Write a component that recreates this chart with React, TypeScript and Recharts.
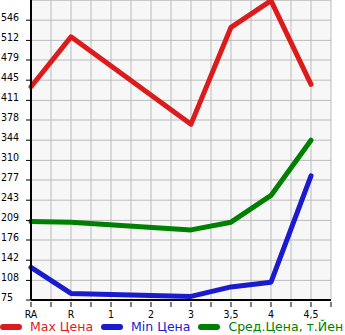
import { CartesianGrid, Line, LineChart, ReferenceLine, XAxis, YAxis } from "recharts";

const CATEGORIES = ["RA", "R", "1", "2", "3", "3,5", "4", "4,5"];
const MAX_PRICE = [434, 518, null, null, 371, 534, 579, 438];
const MIN_PRICE = [130, 86, null, null, 81, 97, 105, 284];
const AVG_PRICE = [207, 206, null, null, 193, 206, 251, 344];
const Y_TICKS = [75, 108, 142, 176, 209, 243, 277, 310, 344, 378, 411, 445, 479, 512, 546];
const Y_MIN = 75;
const Y_MAX = 580;

const SERIES = [
  { key: "max", label: "Max Цена", color: "#dc1c1c" },
  { key: "min", label: "Min Цена", color: "#1a1acf" },
  { key: "avg", label: "Сред.Цена, т.Йен", color: "#008000" },
] as const;

const data = CATEGORIES.map((c, i) => ({
  x: i,
  max: MAX_PRICE[i],
  min: MIN_PRICE[i],
  avg: AVG_PRICE[i],
}));

// half steps so the grid has a line every half category
const X_TICKS = Array.from({ length: CATEGORIES.length * 2 }, (_, i) => i / 2);

const FONT = "'DejaVu Sans Condensed', 'DejaVu Sans', sans-serif";

function YTick(props: any) {
  const { y, payload } = props;
  return (
    <g>
      <line x1={26} x2={31} y1={y} y2={y} stroke="#000" />
      <text x={1} y={y - 3} dy="0.35em" fontSize={10.5} fontFamily={FONT} fill="#000">
        {payload.value}
      </text>
    </g>
  );
}

function XTick(props: any) {
  const { x, y, payload } = props;
  const label = Number.isInteger(payload.value) ? CATEGORIES[payload.value] : "";
  return (
    <g>
      <line x1={x} x2={x} y1={y - 6} y2={y - 1} stroke="#000" />
      <text x={x} y={y + 6} dy="0.35em" textAnchor="middle" fontSize={10.5} fontFamily={FONT} fill="#000">
        {label}
      </text>
    </g>
  );
}

export default function App() {
  return (
    <div style={{ position: "absolute", left: 0, top: 0, width: 345, height: 335, background: "#fff" }}>
      <LineChart width={345} height={320} data={data} margin={{ top: 0, right: 14, bottom: 0, left: 0 }}>
        <CartesianGrid stroke="#bbbbbb" fill="#f7f7f7" />
        <XAxis
          dataKey="x"
          type="number"
          domain={[0, X_TICKS[X_TICKS.length - 1]]}
          ticks={X_TICKS}
          interval={0}
          height={20}
          axisLine={{ stroke: "#000", strokeWidth: 2 }}
          tickLine={false}
          tick={<XTick />}
        />
        <YAxis
          type="number"
          domain={[Y_MIN, Y_MAX]}
          ticks={Y_TICKS}
          interval={0}
          width={31}
          allowDataOverflow
          axisLine={{ stroke: "#000", strokeWidth: 2 }}
          tickLine={false}
          tick={<YTick />}
        />
        <ReferenceLine y={Y_MAX} stroke="#bbbbbb" />
        {SERIES.map((s) => (
          <Line
            key={s.key}
            dataKey={s.key}
            type="linear"
            stroke={s.color}
            strokeWidth={5}
            strokeLinecap="round"
            strokeLinejoin="round"
            dot={false}
            activeDot={false}
            connectNulls
            isAnimationActive={false}
          />
        ))}
      </LineChart>
      <div
        style={{
          position: "absolute",
          left: 0,
          top: 319,
          display: "flex",
          alignItems: "center",
          fontFamily: "'DejaVu Sans', sans-serif",
          fontSize: 12.5,
          whiteSpace: "nowrap",
        }}
      >
        {SERIES.map((s) => (
          <div key={s.key} style={{ display: "flex", alignItems: "center", marginRight: 8 }}>
            <span
              style={{
                display: "inline-block",
                width: 22,
                height: 6,
                borderRadius: 3,
                background: s.color,
                marginRight: 8,
              }}
            />
            <span style={{ color: s.color }}>{s.label}</span>
          </div>
        ))}
      </div>
    </div>
  );
}
